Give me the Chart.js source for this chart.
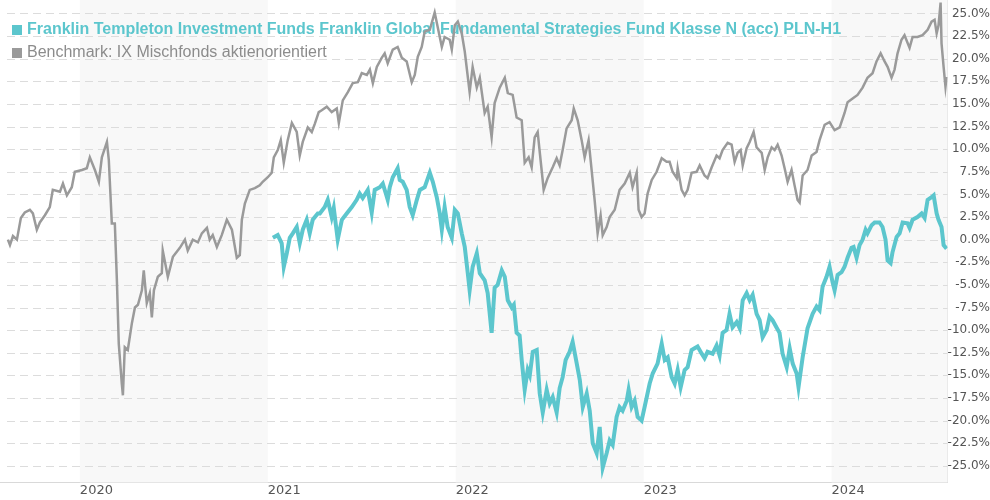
<!DOCTYPE html>
<html>
<head>
<meta charset="utf-8">
<script src="https://cdn.jsdelivr.net/npm/chart.js@4"></script>
<style>
  html, body { margin: 0; padding: 0; background: #fff; }
  #wrap { width: 990px; height: 500px; }
</style>
</head>
<body>
<div id="wrap"><canvas id="perfChart"></canvas></div>
<script>
const fundLabel = 'Franklin Templeton Investment Funds Franklin Global Fundamental Strategies Fund Klasse N (acc) PLN-H1';
const benchmarkLabel = 'Benchmark: IX Mischfonds aktienorientiert';

const yearTicks = [2020, 2021, 2022, 2023, 2024];
const valueTicks = [-25, -22.5, -20, -17.5, -15, -12.5, -10, -7.5, -5, -2.5, 0, 2.5, 5, 7.5, 10, 12.5, 15, 17.5, 20, 22.5, 25];
const shadedYears = [2020, 2022, 2024];

// benchmark: time in decimal years, values in %
const benchmarkYears = [
  2019.617, 2019.628, 2019.644, 2019.665, 2019.686, 2019.707, 2019.734, 2019.750, 2019.771, 2019.787,
  2019.814, 2019.840, 2019.856, 2019.894, 2019.910, 2019.931, 2019.957, 2019.973, 2020.011, 2020.037,
  2020.053, 2020.080, 2020.101, 2020.117, 2020.144, 2020.154, 2020.170, 2020.186, 2020.197, 2020.207,
  2020.223, 2020.229, 2020.239, 2020.255, 2020.277, 2020.293, 2020.309, 2020.330, 2020.340, 2020.356,
  2020.372, 2020.383, 2020.394, 2020.415, 2020.436, 2020.441, 2020.468, 2020.495, 2020.532, 2020.559,
  2020.574, 2020.601, 2020.628, 2020.649, 2020.676, 2020.691, 2020.707, 2020.729, 2020.755, 2020.782,
  2020.809, 2020.835, 2020.851, 2020.862, 2020.878, 2020.904, 2020.931, 2020.957, 2020.973, 2021.000,
  2021.021, 2021.032, 2021.053, 2021.069, 2021.085, 2021.106, 2021.128, 2021.154, 2021.170, 2021.186,
  2021.213, 2021.234, 2021.250, 2021.271, 2021.287, 2021.314, 2021.340, 2021.367, 2021.378, 2021.399,
  2021.426, 2021.452, 2021.479, 2021.500, 2021.527, 2021.543, 2021.559, 2021.580, 2021.606, 2021.622,
  2021.638, 2021.665, 2021.691, 2021.713, 2021.739, 2021.766, 2021.782, 2021.798, 2021.819, 2021.835,
  2021.862, 2021.888, 2021.904, 2021.926, 2021.941, 2021.968, 2021.979, 2021.995, 2022.011, 2022.032,
  2022.048, 2022.074, 2022.090, 2022.112, 2022.128, 2022.154, 2022.170, 2022.191, 2022.207, 2022.234,
  2022.261, 2022.277, 2022.303, 2022.324, 2022.351, 2022.367, 2022.388, 2022.404, 2022.420, 2022.436,
  2022.457, 2022.468, 2022.489, 2022.516, 2022.537, 2022.553, 2022.569, 2022.590, 2022.617, 2022.628,
  2022.649, 2022.670, 2022.686, 2022.707, 2022.723, 2022.739, 2022.755, 2022.771, 2022.782, 2022.803,
  2022.819, 2022.846, 2022.872, 2022.899, 2022.926, 2022.941, 2022.963, 2022.973, 2022.989, 2023.005,
  2023.021, 2023.043, 2023.069, 2023.096, 2023.122, 2023.138, 2023.154, 2023.176, 2023.181, 2023.202,
  2023.218, 2023.234, 2023.255, 2023.282, 2023.298, 2023.324, 2023.340, 2023.362, 2023.388, 2023.404,
  2023.420, 2023.447, 2023.468, 2023.484, 2023.500, 2023.516, 2023.527, 2023.548, 2023.564, 2023.585,
  2023.601, 2023.628, 2023.644, 2023.660, 2023.681, 2023.697, 2023.713, 2023.734, 2023.750, 2023.766,
  2023.787, 2023.803, 2023.819, 2023.830, 2023.846, 2023.872, 2023.894, 2023.920, 2023.936, 2023.963,
  2023.989, 2024.016, 2024.043, 2024.069, 2024.085, 2024.112, 2024.138, 2024.165, 2024.191, 2024.218,
  2024.239, 2024.261, 2024.282, 2024.298, 2024.319, 2024.335, 2024.351, 2024.372, 2024.388, 2024.415,
  2024.431, 2024.457, 2024.484, 2024.511, 2024.532, 2024.548, 2024.559, 2024.569, 2024.580, 2024.585,
  2024.596, 2024.606, 2024.612
];
const benchmarkValues = [
  0.0, -0.6, 0.4, 0.0, 2.4, 3.0, 3.3, 2.9, 1.1, 1.9,
  2.7, 3.6, 5.5, 5.3, 6.2, 4.9, 5.8, 7.5, 7.7, 7.9,
  9.1, 7.7, 6.4, 9.1, 10.8, 8.8, 1.8, 1.8, -4.5, -11.5,
  -15.9, -17.2, -11.9, -12.2, -9.2, -7.5, -7.2, -5.6, -3.4, -7.0,
  -5.9, -8.6, -5.6, -4.1, -3.7, -1.2, -4.1, -1.9, -0.9, 0.0,
  -1.2, 0.0, -0.3, 0.7, 1.3, 0.0, 0.5, -0.8, 0.5, 2.2,
  1.1, -2.0, -1.7, 2.2, 4.0, 5.5, 5.7, 6.0, 6.4, 6.9,
  7.4, 9.1, 9.9, 11.0, 8.5, 11.0, 12.9, 11.9, 9.3, 10.8,
  12.4, 11.9, 12.8, 14.1, 14.3, 14.7, 14.1, 14.5, 12.9, 15.4,
  16.3, 17.3, 17.4, 18.4, 18.2, 18.8, 17.3, 19.1, 20.1, 20.6,
  19.5, 21.0, 21.3, 20.1, 19.7, 17.4, 18.2, 20.2, 21.3, 23.0,
  23.2, 25.1, 23.5, 21.3, 22.4, 22.1, 21.0, 23.7, 24.1, 22.8,
  20.8, 16.3, 19.1, 16.8, 17.9, 14.0, 14.7, 11.3, 15.1, 16.8,
  17.9, 16.2, 16.0, 13.5, 13.2, 8.5, 9.1, 8.0, 11.3, 11.9,
  7.7, 5.5, 6.8, 8.0, 9.0, 8.2, 9.9, 12.3, 13.2, 14.5,
  13.2, 11.0, 9.1, 11.0, 7.7, 4.4, 0.7, 2.7, 0.5, 1.4,
  2.5, 3.3, 5.5, 6.2, 7.4, 5.8, 7.4, 3.3, 2.5, 2.9,
  5.1, 6.6, 7.5, 9.0, 8.6, 8.6, 7.5, 6.8, 7.9, 5.5,
  4.9, 5.5, 7.4, 7.5, 8.2, 7.1, 6.8, 8.0, 9.3, 9.0,
  9.9, 10.7, 10.5, 8.6, 9.6, 9.9, 8.2, 10.1, 10.8, 11.9,
  10.2, 9.6, 7.7, 9.1, 10.2, 9.9, 10.5, 9.3, 7.9, 6.4,
  7.7, 6.0, 4.4, 4.1, 7.1, 7.7, 9.3, 9.7, 11.0, 12.7,
  13.0, 12.1, 12.4, 14.0, 15.2, 15.6, 16.0, 16.8, 17.9, 18.4,
  19.7, 20.6, 19.7, 19.1, 17.9, 18.8, 20.6, 22.1, 22.6, 21.2,
  22.4, 22.4, 22.6, 23.2, 24.1, 24.3, 22.8, 23.7, 26.2, 21.7,
  19.1, 16.9, 18.0
];

// fund: time in decimal years, values in %
const fundYears = [
  2021.027, 2021.053, 2021.074, 2021.085, 2021.101, 2021.117, 2021.133, 2021.154, 2021.170, 2021.186,
  2021.207, 2021.223, 2021.239, 2021.266, 2021.277, 2021.303, 2021.319, 2021.340, 2021.351, 2021.372,
  2021.394, 2021.420, 2021.447, 2021.473, 2021.489, 2021.505, 2021.532, 2021.553, 2021.569, 2021.596,
  2021.612, 2021.628, 2021.638, 2021.649, 2021.665, 2021.691, 2021.702, 2021.718, 2021.739, 2021.755,
  2021.771, 2021.793, 2021.809, 2021.835, 2021.862, 2021.878, 2021.899, 2021.915, 2021.926, 2021.941,
  2021.957, 2021.979, 2021.995, 2022.011, 2022.032, 2022.048, 2022.064, 2022.074, 2022.090, 2022.112,
  2022.128, 2022.154, 2022.170, 2022.191, 2022.207, 2022.223, 2022.245, 2022.261, 2022.277, 2022.298,
  2022.309, 2022.324, 2022.340, 2022.351, 2022.367, 2022.383, 2022.394, 2022.410, 2022.431, 2022.447,
  2022.463, 2022.484, 2022.500, 2022.516, 2022.537, 2022.553, 2022.569, 2022.585, 2022.606, 2022.622,
  2022.644, 2022.660, 2022.676, 2022.697, 2022.713, 2022.729, 2022.750, 2022.766, 2022.782, 2022.803,
  2022.819, 2022.835, 2022.856, 2022.872, 2022.888, 2022.910, 2022.920, 2022.936, 2022.952, 2022.968,
  2022.989, 2023.005, 2023.032, 2023.048, 2023.074, 2023.096, 2023.112, 2023.128, 2023.149, 2023.165,
  2023.181, 2023.197, 2023.218, 2023.234, 2023.255, 2023.271, 2023.287, 2023.309, 2023.324, 2023.340,
  2023.367, 2023.388, 2023.404, 2023.420, 2023.441, 2023.457, 2023.473, 2023.495, 2023.511, 2023.527,
  2023.548, 2023.564, 2023.580, 2023.601, 2023.617, 2023.633, 2023.654, 2023.670, 2023.686, 2023.707,
  2023.723, 2023.739, 2023.761, 2023.777, 2023.793, 2023.814, 2023.824, 2023.846, 2023.872, 2023.899,
  2023.920, 2023.936, 2023.952, 2023.973, 2023.989, 2024.005, 2024.016, 2024.032, 2024.053, 2024.069,
  2024.085, 2024.106, 2024.117, 2024.133, 2024.149, 2024.165, 2024.181, 2024.191, 2024.213, 2024.229,
  2024.255, 2024.271, 2024.287, 2024.298, 2024.314, 2024.324, 2024.346, 2024.362, 2024.378, 2024.404,
  2024.415, 2024.431, 2024.457, 2024.479, 2024.495, 2024.511, 2024.532, 2024.543, 2024.559, 2024.569,
  2024.585, 2024.596, 2024.612
];
const fundValues = [
  0.2, 0.5, -0.4, -3.0, -1.5, 0.2, 0.7, 1.4, -0.4, 1.1,
  2.2, 0.7, 2.2, 2.9, 2.9, 3.6, 4.4, 2.5, 3.5, 0.0,
  2.2, 2.9, 3.6, 4.4, 5.1, 4.6, 5.5, 3.0, 5.5, 5.8,
  6.2, 5.1, 4.4, 5.8, 6.9, 7.9, 6.6, 6.4, 5.5, 3.6,
  2.7, 4.4, 5.5, 5.8, 7.4, 6.4, 4.7, 2.9, 1.1, 3.6,
  1.4, 0.2, 3.3, 2.9, 0.7, -0.8, -3.7, -5.6, -3.0, -1.5,
  -3.7, -4.5, -5.9, -10.3, -5.3, -5.0, -3.4, -4.1, -6.7, -7.5,
  -7.2, -10.3, -10.6, -13.3, -16.6, -14.4, -15.0, -12.4, -12.2, -17.0,
  -19.1, -16.6, -18.1, -17.4, -19.1, -16.4, -15.2, -13.3, -12.4, -11.3,
  -13.7, -15.5, -18.5, -17.0, -18.9, -22.5, -23.6, -20.7, -25.2, -23.6,
  -22.2, -22.7, -19.6, -18.5, -18.9, -17.8, -16.6, -18.5, -17.8, -19.6,
  -20.0, -18.5, -15.9, -14.8, -13.7, -11.5, -13.3, -13.0, -15.2, -15.9,
  -14.4, -16.3, -14.4, -14.1, -12.2, -12.0, -11.8, -12.6, -13.1, -12.4,
  -12.6, -11.7, -12.8, -10.3, -10.0, -8.2, -9.7, -9.1, -9.8, -6.7,
  -5.9, -6.7, -6.1, -8.2, -8.9, -10.8, -10.0, -8.5, -8.9, -9.7,
  -10.3, -12.6, -14.1, -12.0, -13.7, -14.8, -16.3, -13.0, -9.8, -8.2,
  -7.4, -7.8, -5.2, -4.1, -3.0, -4.7, -5.6, -3.9, -3.6, -3.0,
  -2.0, -0.9, -0.8, -2.0, -0.6, 0.0, 1.1, 0.7, 1.6, 1.9,
  1.9, 1.4, 0.0, -2.3, -2.6, -1.4, 0.3, 0.7, 1.9, 1.8,
  1.3, 2.2, 2.5, 2.9, 2.4, 4.4, 4.7, 4.9, 2.9, 2.2,
  1.4, -0.6, -1.0
];

const fundColor = '#5cc6cd';
const benchmarkColor = '#9a9a9a';

function toPoints(xs, ys) {
  return xs.map((x, i) => ({ x: x, y: ys[i] }));
}

// light grey bands behind every second year, dashed grid and legend
const yearBands = {
  id: 'yearBands',
  beforeDatasetsDraw(chart) {
    const { ctx, chartArea, scales } = chart;
    ctx.save();
    ctx.fillStyle = '#f8f8f8';
    shadedYears.forEach(yr => {
      const x1 = Math.max(scales.x.getPixelForValue(yr), chartArea.left);
      const x2 = Math.min(scales.x.getPixelForValue(yr + 1), chartArea.right);
      ctx.fillRect(x1, chartArea.top, x2 - x1, chartArea.bottom - chartArea.top);
    });
    ctx.restore();

    ctx.save();
    ctx.strokeStyle = '#dcdcdc';
    ctx.lineWidth = 1;
    ctx.setLineDash([8, 5]);
    valueTicks.forEach(v => {
      const y = Math.round(scales.y.getPixelForValue(v)) + 0.5;
      ctx.beginPath();
      ctx.moveTo(chartArea.left + 7, y);
      ctx.lineTo(chartArea.right, y);
      ctx.stroke();
    });
    ctx.restore();

    ctx.save();
    ctx.textBaseline = 'middle';
    ctx.fillStyle = fundColor;
    ctx.fillRect(12, 25, 10, 10);
    ctx.font = 'bold 16px "Liberation Sans", Arial, sans-serif';
    ctx.fillText(fundLabel, 27, 30);
    ctx.fillStyle = benchmarkColor;
    ctx.fillRect(12, 48, 10, 10);
    ctx.fillStyle = '#8c8c8c';
    ctx.font = '16px "Liberation Sans", Arial, sans-serif';
    ctx.fillText(benchmarkLabel, 27, 53);
    ctx.restore();
  }
};

const ctx = document.getElementById('perfChart').getContext('2d');

window.perfChart = new Chart(ctx, {
  type: 'line',
  data: {
    datasets: [
      {
        label: benchmarkLabel,
        data: toPoints(benchmarkYears, benchmarkValues),
        borderColor: benchmarkColor,
        borderWidth: 2.5,
        pointRadius: 0,
        fill: false,
        tension: 0
      },
      {
        label: fundLabel,
        data: toPoints(fundYears, fundValues),
        borderColor: fundColor,
        borderWidth: 4,
        pointRadius: 0,
        fill: false,
        tension: 0
      }
    ]
  },
  options: {
    responsive: true,
    maintainAspectRatio: false,
    animation: false,
    layout: { padding: { left: 0, right: 0, top: 0, bottom: 2 } },
    plugins: {
      legend: { display: false },
      tooltip: { enabled: false }
    },
    scales: {
      x: {
        type: 'linear',
        min: 2019.575,
        max: 2024.617,
        afterBuildTicks: axis => { axis.ticks = yearTicks.map(v => ({ value: v })); },
        grid: { display: false, drawTicks: false },
        border: { display: true, color: '#d9d9d9' },
        ticks: {
          align: 'start',
          padding: 0,
          maxRotation: 0,
          autoSkip: false,
          color: '#555',
          font: { family: '"DejaVu Sans", Verdana, sans-serif', size: 13 },
          callback: v => String(v)
        }
      },
      y: {
        position: 'right',
        min: -26.83,
        max: 26.49,
        afterBuildTicks: axis => { axis.ticks = valueTicks.map(v => ({ value: v })); },
        afterFit: axis => { axis.paddingTop = 0; axis.paddingBottom = 0; },
        grid: { display: false, drawTicks: false },
        border: { display: true, color: '#d9d9d9' },
        ticks: {
          crossAlign: 'far',
          padding: 0,
          color: '#555',
          font: { family: '"DejaVu Sans", Verdana, sans-serif', size: 12 },
          callback: v => v.toFixed(1) + '%'
        }
      }
    }
  },
  plugins: [yearBands]
});
</script>
</body>
</html>
